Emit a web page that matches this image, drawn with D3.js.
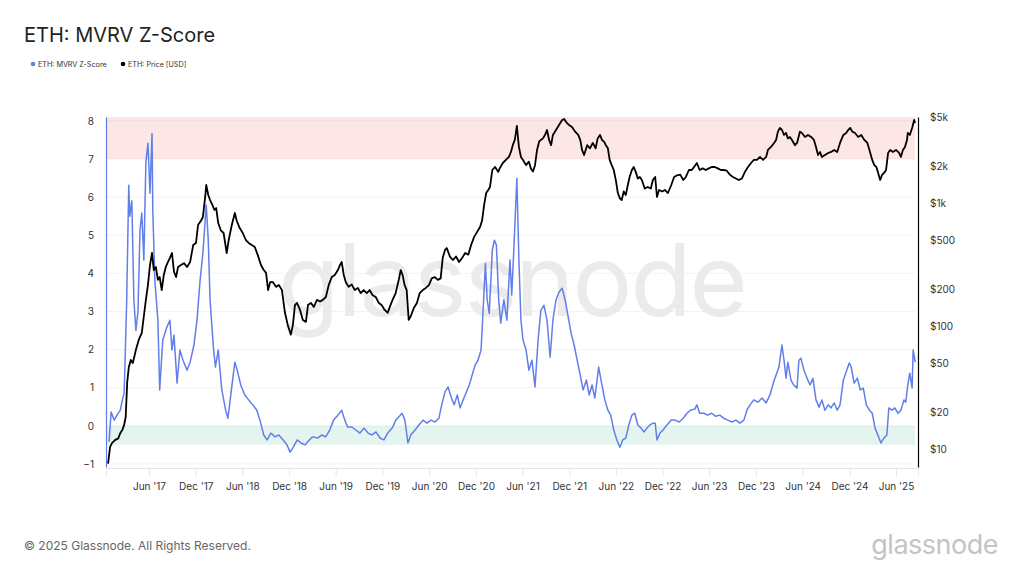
<!DOCTYPE html>
<html>
<head>
<meta charset="utf-8">
<script src="https://cdn.jsdelivr.net/npm/d3@7"></script>
<style>
  body { margin: 0; background: #fff; }
  svg { display: block; font-family: Inter, "Noto Sans", sans-serif; }
</style>
</head>
<body>
<div id="chart"></div>
<script>
// ---- data ----
var title = "ETH: MVRV Z-Score";
var seriesNames = ["ETH: MVRV Z-Score", "ETH: Price [USD]"];
var zTicks = [-1, 0, 1, 2, 3, 4, 5, 6, 7, 8];
var priceTicks = [10, 20, 50, 100, 200, 500, 1000, 2000, 5000];
var priceTickLabels = ["$10", "$20", "$50", "$100", "$200", "$500", "$1k", "$2k", "$5k"];
var bands = [[7, 8.1, "#fde6e6"], [-0.5, 0, "#e4f5ef"]];
var dateRange = ["2016-12-15", "2025-08-26"];

var mvrvSeries = [
  ["2016-12-27",-0.42],["2017-01-04",0.36],["2017-01-16",0.15],["2017-01-27",0.28],["2017-02-09",0.41],
  ["2017-02-17",0.68],["2017-02-24",0.86],["2017-02-28",1.8],["2017-03-06",3.3],["2017-03-14",6.31],
  ["2017-03-18",5.5],["2017-03-26",5.9],["2017-04-03",3.3],["2017-04-11",2.5],["2017-04-19",3.0],
  ["2017-04-27",5.13],["2017-05-04",5.58],["2017-05-12",4.35],["2017-05-20",6.91],["2017-05-28",7.41],
  ["2017-06-05",6.1],["2017-06-13",7.67],["2017-06-16",5.66],["2017-06-24",3.82],["2017-07-06",2.77],
  ["2017-07-13",0.94],["2017-07-25",2.25],["2017-08-10",2.59],["2017-08-22",2.77],["2017-08-30",1.99],
  ["2017-09-07",2.38],["2017-09-19",1.12],["2017-09-30",1.99],["2017-10-12",1.72],["2017-10-28",1.46],
  ["2017-11-09",1.67],["2017-11-24",2.12],["2017-12-06",2.77],["2017-12-18",3.82],["2017-12-29",4.53],
  ["2018-01-11",5.79],["2018-01-19",4.87],["2018-01-26",3.3],["2018-02-08",2.07],["2018-02-16",1.54],
  ["2018-02-27",1.99],["2018-03-13",0.94],["2018-03-28",0.41],["2018-04-06",0.2],["2018-04-17",0.81],
  ["2018-05-03",1.67],["2018-05-14",1.41],["2018-05-26",1.07],["2018-06-11",0.81],["2018-06-26",0.68],
  ["2018-07-12",0.55],["2018-07-28",0.41],["2018-08-09",0.15],["2018-08-24",-0.24],["2018-09-06",-0.37],
  ["2018-09-21",-0.19],["2018-10-07",-0.29],["2018-10-22",-0.24],["2018-11-08",-0.37],["2018-11-23",-0.5],
  ["2018-12-05",-0.69],["2018-12-16",-0.58],["2019-01-02",-0.37],["2019-01-17",-0.45],["2019-02-02",-0.5],
  ["2019-02-18",-0.37],["2019-03-03",-0.29],["2019-03-23",-0.32],["2019-04-08",-0.24],["2019-04-23",-0.29],
  ["2019-05-09",-0.11],["2019-05-24",0.15],["2019-06-10",0.28],["2019-06-25",0.41],["2019-07-07",0.15],
  ["2019-07-18",-0.03],["2019-08-04",-0.03],["2019-08-19",-0.11],["2019-09-04",-0.19],["2019-09-20",-0.06],
  ["2019-10-06",-0.19],["2019-10-21",-0.24],["2019-11-06",-0.16],["2019-11-22",-0.32],["2019-12-07",-0.37],
  ["2019-12-22",-0.19],["2020-01-08",-0.06],["2020-01-23",0.15],["2020-02-09",0.28],["2020-02-16",0.33],
  ["2020-02-27",0.15],["2020-03-10",-0.45],["2020-03-21",-0.24],["2020-04-07",-0.11],["2020-04-22",0.02],
  ["2020-05-08",0.15],["2020-05-23",0.07],["2020-06-08",0.15],["2020-06-24",0.1],["2020-07-09",0.2],
  ["2020-07-20",0.55],["2020-08-02",0.89],["2020-08-14",1.02],["2020-08-26",0.75],["2020-09-07",0.55],
  ["2020-09-19",0.81],["2020-09-30",0.47],["2020-10-12",0.68],["2020-10-23",0.86],["2020-11-05",1.07],
  ["2020-11-16",1.33],["2020-11-28",1.6],["2020-12-09",1.72],["2020-12-21",1.99],["2020-12-29",3.03],
  ["2021-01-07",4.26],["2021-01-14",3.3],["2021-01-22",2.95],["2021-02-03",4.61],["2021-02-11",4.87],
  ["2021-02-19",4.74],["2021-02-28",3.3],["2021-03-08",2.69],["2021-03-20",3.3],["2021-04-01",2.77],
  ["2021-04-13",4.35],["2021-04-20",3.43],["2021-04-28",4.61],["2021-05-10",6.49],["2021-05-18",4.35],
  ["2021-05-26",2.77],["2021-06-03",2.25],["2021-06-15",1.99],["2021-06-26",1.46],["2021-07-08",1.72],
  ["2021-07-20",1.02],["2021-08-01",2.25],["2021-08-12",3.03],["2021-08-24",3.16],["2021-09-05",2.77],
  ["2021-09-17",1.8],["2021-09-28",2.77],["2021-10-10",3.3],["2021-10-22",3.51],["2021-11-03",3.61],
  ["2021-11-15",3.3],["2021-11-27",2.85],["2021-12-08",2.43],["2021-12-20",2.12],["2022-01-01",1.72],
  ["2022-01-13",1.33],["2022-01-24",0.94],["2022-02-06",1.2],["2022-02-17",0.81],["2022-02-28",1.07],
  ["2022-03-11",0.73],["2022-03-26",1.54],["2022-04-08",1.07],["2022-04-19",0.68],["2022-05-01",0.41],
  ["2022-05-12",0.28],["2022-05-24",-0.11],["2022-06-05",-0.37],["2022-06-17",-0.56],["2022-06-28",-0.37],
  ["2022-07-10",-0.32],["2022-07-22",0.02],["2022-08-03",0.28],["2022-08-14",0.33],["2022-08-26",0.02],
  ["2022-09-08",-0.06],["2022-09-19",-0.16],["2022-10-01",-0.06],["2022-10-12",0.02],["2022-10-24",0.07],
  ["2022-11-02",0.07],["2022-11-09",-0.37],["2022-11-21",-0.19],["2022-12-03",-0.11],["2022-12-18",0.02],
  ["2023-01-04",0.15],["2023-01-19",0.15],["2023-02-04",0.1],["2023-02-20",0.2],["2023-03-06",0.33],
  ["2023-03-21",0.41],["2023-04-06",0.44],["2023-04-14",0.55],["2023-04-25",0.33],["2023-05-11",0.33],
  ["2023-05-26",0.28],["2023-06-11",0.33],["2023-06-27",0.25],["2023-07-13",0.28],["2023-07-28",0.2],
  ["2023-08-13",0.15],["2023-08-29",0.1],["2023-09-14",0.15],["2023-09-29",0.07],["2023-10-15",0.15],
  ["2023-10-27",0.41],["2023-11-08",0.55],["2023-11-23",0.68],["2023-12-09",0.62],["2023-12-25",0.73],
  ["2024-01-10",0.6],["2024-01-25",0.81],["2024-02-07",1.12],["2024-02-18",1.33],["2024-02-29",1.54],
  ["2024-03-12",2.12],["2024-03-20",1.72],["2024-03-28",1.25],["2024-04-04",1.67],["2024-04-16",1.2],
  ["2024-04-27",1.07],["2024-05-10",0.99],["2024-05-17",1.72],["2024-05-25",1.77],["2024-06-06",1.46],
  ["2024-06-18",1.25],["2024-06-30",1.07],["2024-07-11",1.25],["2024-07-23",0.68],["2024-08-04",0.49],
  ["2024-08-15",0.68],["2024-08-27",0.41],["2024-09-09",0.55],["2024-09-20",0.47],["2024-10-02",0.6],
  ["2024-10-14",0.41],["2024-10-25",0.55],["2024-11-07",1.2],["2024-11-18",1.41],["2024-11-30",1.65],
  ["2024-12-08",1.54],["2024-12-19",1.12],["2025-01-01",1.25],["2025-01-12",0.94],["2025-01-24",0.99],
  ["2025-02-05",0.55],["2025-02-17",0.41],["2025-02-28",0.33],["2025-03-11",-0.06],["2025-03-22",-0.24],
  ["2025-04-03",-0.45],["2025-04-15",-0.32],["2025-04-26",-0.24],["2025-05-04",0.47],["2025-05-16",0.41],
  ["2025-05-27",0.47],["2025-06-09",0.33],["2025-06-20",0.41],["2025-07-02",0.68],["2025-07-09",0.62],
  ["2025-07-17",1.07],["2025-07-25",1.38],["2025-08-03",0.99],["2025-08-07",1.99],["2025-08-15",1.67]
];

var priceSeries = [
  ["2016-12-23",7.6],["2016-12-31",10.4],["2017-01-08",11.2],["2017-01-19",11.8],["2017-02-01",12.2],
  ["2017-02-09",13.5],["2017-02-17",14.3],["2017-02-24",15.7],["2017-03-02",18.2],["2017-03-08",35],
  ["2017-03-14",46],["2017-03-22",53],["2017-03-30",50],["2017-04-11",64],["2017-04-22",77],
  ["2017-05-04",88],["2017-05-12",120],["2017-05-20",163],["2017-05-28",215],["2017-06-05",313],
  ["2017-06-13",392],["2017-06-20",285],["2017-06-28",302],["2017-07-06",237],["2017-07-13",250],
  ["2017-07-21",196],["2017-07-29",260],["2017-08-06",302],["2017-08-14",331],["2017-08-22",358],
  ["2017-08-30",392],["2017-09-07",276],["2017-09-15",250],["2017-09-23",302],["2017-10-04",313],
  ["2017-10-16",324],["2017-10-28",302],["2017-11-09",331],["2017-11-21",455],["2017-12-02",473],
  ["2017-12-10",662],["2017-12-22",720],["2017-12-29",769],["2018-01-07",1119],["2018-01-11",1400],
  ["2018-01-19",1160],["2018-01-26",1057],["2018-02-04",965],["2018-02-12",880],["2018-02-19",910],
  ["2018-02-27",687],["2018-03-09",600],["2018-03-20",570],["2018-04-01",392],["2018-04-09",500],
  ["2018-04-21",662],["2018-05-03",829],["2018-05-10",720],["2018-05-22",625],["2018-06-03",570],
  ["2018-06-15",500],["2018-06-26",473],["2018-07-08",455],["2018-07-20",439],["2018-08-01",375],
  ["2018-08-13",313],["2018-08-24",285],["2018-09-02",270],["2018-09-10",196],["2018-09-18",227],
  ["2018-09-29",227],["2018-10-11",208],["2018-10-22",215],["2018-11-03",196],["2018-11-15",128],
  ["2018-11-26",102],["2018-12-08",85],["2018-12-16",102],["2018-12-24",148],["2019-01-01",154],
  ["2019-01-13",135],["2019-01-24",112],["2019-02-05",108],["2019-02-13",148],["2019-02-24",154],
  ["2019-03-08",143],["2019-03-20",163],["2019-04-01",158],["2019-04-12",163],["2019-04-24",172],
  ["2019-05-05",215],["2019-05-17",250],["2019-05-29",260],["2019-06-10",285],["2019-06-18",313],
  ["2019-06-25",331],["2019-07-03",260],["2019-07-11",227],["2019-07-22",208],["2019-08-03",218],
  ["2019-08-15",196],["2019-08-27",204],["2019-09-07",185],["2019-09-19",196],["2019-10-01",185],
  ["2019-10-12",196],["2019-10-24",178],["2019-11-05",172],["2019-11-17",154],["2019-11-28",148],
  ["2019-12-10",135],["2019-12-22",128],["2019-12-30",143],["2020-01-10",163],["2020-01-22",185],
  ["2020-02-03",237],["2020-02-11",285],["2020-02-18",260],["2020-02-26",215],["2020-03-05",196],
  ["2020-03-13",112],["2020-03-21",120],["2020-04-02",140],["2020-04-14",154],["2020-04-25",185],
  ["2020-05-07",196],["2020-05-19",204],["2020-05-31",215],["2020-06-11",244],["2020-06-23",250],
  ["2020-07-05",237],["2020-07-16",244],["2020-07-24",358],["2020-08-02",415],["2020-08-09",430],
  ["2020-08-21",367],["2020-09-02",344],["2020-09-14",367],["2020-09-26",331],["2020-10-08",358],
  ["2020-10-20",392],["2020-11-01",380],["2020-11-12",455],["2020-11-24",530],["2020-12-05",580],
  ["2020-12-17",638],["2020-12-25",720],["2021-01-02",965],["2021-01-10",1205],["2021-01-18",1276],
  ["2021-01-25",1350],["2021-02-03",1854],["2021-02-14",1962],["2021-02-26",1790],["2021-03-04",1910],
  ["2021-03-16",2114],["2021-03-28",2238],["2021-04-09",2367],["2021-04-17",2600],["2021-04-24",2950],
  ["2021-05-02",3254],["2021-05-10",4228],["2021-05-18",2855],["2021-05-26",2367],["2021-06-03",2238],
  ["2021-06-15",2030],["2021-06-26",2170],["2021-07-04",1910],["2021-07-12",1800],["2021-07-20",2030],
  ["2021-07-28",2699],["2021-08-05",3150],["2021-08-12",3254],["2021-08-20",3350],["2021-08-28",3573],
  ["2021-09-05",3921],["2021-09-13",3254],["2021-09-21",2950],["2021-09-28",3573],["2021-10-10",3921],
  ["2021-10-22",4300],["2021-11-03",4731],["2021-11-11",4820],["2021-11-19",4550],["2021-11-30",4300],
  ["2021-12-12",4150],["2021-12-24",3800],["2022-01-05",3573],["2022-01-13",3254],["2022-01-20",2699],
  ["2022-01-28",2456],["2022-02-09",2950],["2022-02-20",2780],["2022-03-03",3076],["2022-03-14",2780],
  ["2022-03-22",3350],["2022-03-31",3573],["2022-04-08",3254],["2022-04-16",3150],["2022-04-23",2950],
  ["2022-05-01",2780],["2022-05-08",2238],["2022-05-16",2030],["2022-05-24",1854],["2022-06-01",1538],
  ["2022-06-09",1205],["2022-06-17",1090],["2022-06-24",1057],["2022-07-02",1240],["2022-07-10",1160],
  ["2022-07-18",1400],["2022-07-25",1627],["2022-08-03",1854],["2022-08-10",1962],["2022-08-18",1790],
  ["2022-08-26",1580],["2022-09-03",1627],["2022-09-11",1538],["2022-09-22",1310],["2022-10-04",1349],
  ["2022-10-16",1310],["2022-10-24",1538],["2022-11-02",1627],["2022-11-09",1119],["2022-11-17",1276],
  ["2022-11-29",1240],["2022-12-10",1276],["2022-12-22",1205],["2023-01-04",1400],["2023-01-15",1627],
  ["2023-01-27",1680],["2023-02-08",1700],["2023-02-20",1538],["2023-03-02",1627],["2023-03-14",1854],
  ["2023-03-25",1854],["2023-04-06",2000],["2023-04-14",2114],["2023-04-25",1854],["2023-05-07",1910],
  ["2023-05-19",1854],["2023-05-31",1910],["2023-06-11",1962],["2023-06-23",1962],["2023-07-05",1910],
  ["2023-07-17",1854],["2023-07-28",1854],["2023-08-09",1830],["2023-08-21",1700],["2023-09-02",1627],
  ["2023-09-14",1580],["2023-09-25",1538],["2023-10-07",1580],["2023-10-19",1790],["2023-10-31",1962],
  ["2023-11-12",2114],["2023-11-23",2238],["2023-12-05",2238],["2023-12-17",2367],["2023-12-29",2238],
  ["2024-01-10",2367],["2024-01-17",2699],["2024-01-29",2855],["2024-02-10",3076],["2024-02-18",3254],
  ["2024-02-25",3800],["2024-03-04",4073],["2024-03-12",3921],["2024-03-20",3573],["2024-03-28",3708],
  ["2024-04-04",3350],["2024-04-12",3443],["2024-04-20",3254],["2024-05-02",2950],["2024-05-10",3076],
  ["2024-05-21",3800],["2024-05-29",3708],["2024-06-10",3443],["2024-06-22",3573],["2024-07-04",3443],
  ["2024-07-15",3254],["2024-07-23",2855],["2024-07-31",2456],["2024-08-08",2600],["2024-08-15",2367],
  ["2024-08-27",2456],["2024-09-09",2550],["2024-09-20",2600],["2024-10-02",2699],["2024-10-14",2600],
  ["2024-10-25",3076],["2024-11-07",3573],["2024-11-18",3708],["2024-11-26",3921],["2024-12-04",4073],
  ["2024-12-12",3800],["2024-12-23",3708],["2025-01-04",3443],["2025-01-16",3573],["2025-01-28",3254],
  ["2025-02-09",3076],["2025-02-17",2699],["2025-02-28",2238],["2025-03-08",2030],["2025-03-16",1962],
  ["2025-03-22",1790],["2025-03-31",1538],["2025-04-08",1700],["2025-04-15",1753],["2025-04-23",1854],
  ["2025-05-01",2550],["2025-05-09",2699],["2025-05-20",2600],["2025-06-01",2699],["2025-06-13",2550],
  ["2025-06-20",2367],["2025-06-28",2699],["2025-07-06",2855],["2025-07-14",3254],["2025-07-17",3708],
  ["2025-07-25",3573],["2025-08-03",4073],["2025-08-11",4731],["2025-08-15",4472]
];

// ---- chart ----
function init(){
  var w = 1024, h = 576;
  var left = 106, right = 918, top = 117, bottom = 467;
  var blue = "#627eea";
  var parse = d3.utcParse("%Y-%m-%d");

  var svg = d3.select("#chart").append("svg")
              .attr("width", w)
              .attr("height", h);

  var x = d3.scaleUtc()
            .domain(dateRange.map(parse))
            .range([left, right]);
  var y = d3.scaleLinear()
            .domain([-1.08, 8.1])
            .range([bottom, top]);
  var yPrice = d3.scaleLog()
            .domain([7.14, 5000])
            .range([bottom, top]);

  // title + legend
  svg.append("text")
     .attr("x", 24).attr("y", 42)
     .attr("font-size", 20).attr("fill", "#222")
     .text(title);

  var legendColors = [blue, "#000"];
  var legendX = [33, 123];
  seriesNames.forEach(function(name, i){
    svg.append("circle")
       .attr("cx", legendX[i]).attr("cy", 64).attr("r", 2.3)
       .attr("fill", legendColors[i]);
    svg.append("text")
       .attr("x", legendX[i] + 5).attr("y", 66.5)
       .attr("font-size", 7.2).attr("fill", "#333")
       .text(name);
  });

  // bands
  bands.forEach(function(b){
    svg.append("rect")
       .attr("x", left).attr("width", right - left - 3)
       .attr("y", y(b[1])).attr("height", y(b[0]) - y(b[1]))
       .attr("fill", b[2]);
  });

  // gridlines
  svg.append("g").selectAll("line")
     .data(zTicks).enter().append("line")
     .attr("x1", left).attr("x2", right - 3)
     .attr("y1", function(d){ return y(d); })
     .attr("y2", function(d){ return y(d); })
     .attr("stroke", "#000").attr("stroke-opacity", 0.05);

  // watermark
  svg.append("text")
     .attr("x", 512).attr("y", 316)
     .attr("text-anchor", "middle")
     .attr("font-size", 100)
     .attr("letter-spacing", -2)
     .attr("fill", "#ebebeb")
     .text("glassnode");

  // x axis
  var xTicks = d3.utcMonths(parse("2017-06-01"), parse("2025-06-02"), 6);
  var xAxis = svg.append("g")
     .attr("transform", "translate(0," + (bottom + 1) + ")")
     .call(d3.axisBottom(x).tickValues(xTicks)
             .tickFormat(d3.utcFormat("%b '%y"))
             .tickSize(8).tickPadding(7));
  xAxis.select(".domain").attr("stroke", "#e6e6e6");
  xAxis.selectAll(".tick line").attr("stroke", "#e6e6e6");
  xAxis.selectAll("text").attr("font-size", 10).attr("fill", "#333")
       .attr("font-family", "Inter, 'Noto Sans', sans-serif");

  // left axis
  var yAxis = svg.append("g")
     .attr("transform", "translate(" + left + ",0)")
     .call(d3.axisLeft(y).tickValues(zTicks).tickSize(0).tickPadding(12));
  yAxis.select(".domain").attr("stroke", blue).attr("stroke-width", 1.2);
  yAxis.selectAll("text").attr("font-size", 10).attr("fill", "#333")
       .attr("font-family", "Inter, 'Noto Sans', sans-serif");

  // right axis
  var pAxis = svg.append("g")
     .attr("transform", "translate(" + right + ",0)")
     .call(d3.axisRight(yPrice).tickValues(priceTicks)
             .tickFormat(function(d, i){ return priceTickLabels[i]; })
             .tickSize(0).tickPadding(12));
  pAxis.select(".domain").attr("stroke", "#000").attr("stroke-width", 1.2);
  pAxis.selectAll("text").attr("font-size", 10).attr("fill", "#333")
       .attr("font-family", "Inter, 'Noto Sans', sans-serif");

  // lines
  var zLine = d3.line()
                .x(function(d){ return x(parse(d[0])); })
                .y(function(d){ return y(d[1]); });
  var pLine = d3.line()
                .x(function(d){ return x(parse(d[0])); })
                .y(function(d){ return yPrice(d[1]); });

  svg.append("path")
     .attr("d", zLine(mvrvSeries))
     .attr("fill", "none").attr("stroke", blue)
     .attr("stroke-width", 1.5).attr("stroke-linejoin", "round");

  svg.append("path")
     .attr("d", pLine(priceSeries))
     .attr("fill", "none").attr("stroke", "#000")
     .attr("stroke-width", 1.8).attr("stroke-linejoin", "round");

  // footer
  svg.append("text")
     .attr("x", 24).attr("y", 550)
     .attr("font-size", 12).attr("fill", "#666")
     .text("\u00a9 2025 Glassnode. All Rights Reserved.");

  svg.append("text")
     .attr("x", 998).attr("y", 554)
     .attr("text-anchor", "end")
     .attr("font-size", 27).attr("fill", "#c4c4c4")
     .attr("letter-spacing", -0.5)
     .text("glassnode");
}

window.onload = init;
</script>
</body>
</html>
